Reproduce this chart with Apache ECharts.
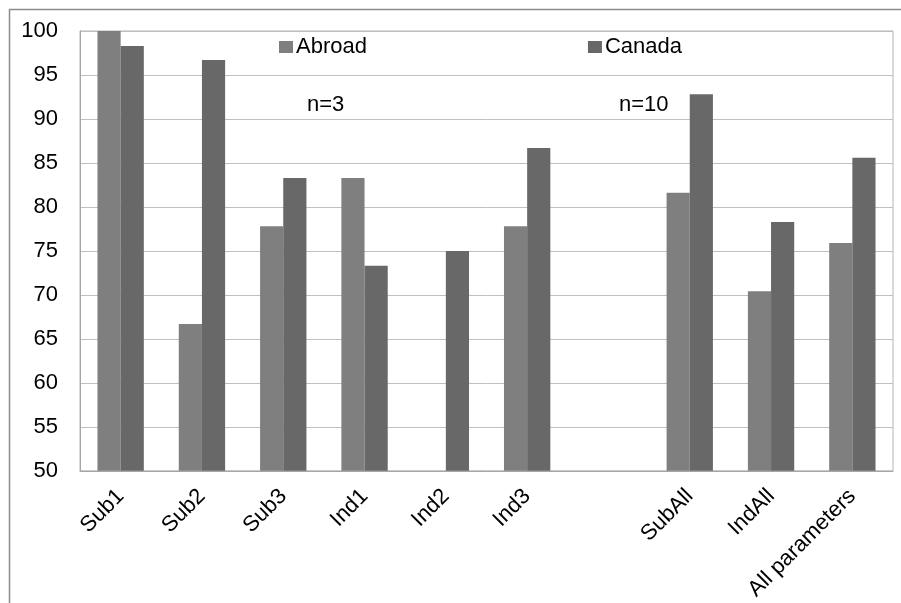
<!DOCTYPE html>
<html>
<head>
<meta charset="utf-8">
<script src="https://cdn.jsdelivr.net/npm/echarts@6/dist/echarts.min.js"></script>
<style>
  html, body { margin: 0; padding: 0; background: #fff; }
  #chart { width: 901px; height: 603px; }
</style>
</head>
<body>
<div id="chart"></div>
<script>
// Categories along the x axis (one empty slot separates the per-item and overall groups)
const categories = ['Sub1', 'Sub2', 'Sub3', 'Ind1', 'Ind2', 'Ind3', '', 'SubAll', 'IndAll', 'All parameters'];
// Percent values per series; null means no bar
const abroad = [100, 66.7, 77.8, 83.3, null, 77.8, null, 81.6, 70.4, 75.9];
const canada = [98.3, 96.7, 83.3, 73.3, 75.0, 86.7, null, 92.8, 78.3, 85.6];
// Y axis range
const yMin = 50, yMax = 100, yStep = 5;

const font = 'Liberation Sans, Arial, sans-serif';
const chart = echarts.init(document.getElementById('chart'), null, { renderer: 'canvas' });

chart.setOption({
  animation: false,
  backgroundColor: '#ffffff',
  grid: {
    left: 80, right: 8, top: 31, bottom: 132,
    show: true, borderColor: '#b3b3b3', borderWidth: 1
  },
  legend: {
    top: 31, left: 274, itemGap: 221,
    itemWidth: 14, itemHeight: 12, icon: 'rect',
    textStyle: { fontFamily: font, fontSize: 22, color: '#000', padding: [0, 0, 0, -2] },
    data: ['Abroad', 'Canada']
  },
  xAxis: {
    type: 'category',
    data: categories,
    axisLine: { lineStyle: { color: '#a6a6a6' } },
    axisTick: { inside: true, length: 7, lineStyle: { color: '#a6a6a6' } },
    axisLabel: { rotate: 45, margin: 22, interval: 0, fontFamily: font, fontSize: 22, color: '#000' }
  },
  yAxis: {
    type: 'value',
    min: yMin, max: yMax, interval: yStep,
    axisLine: { show: true, lineStyle: { color: '#a6a6a6' } },
    axisTick: { show: false },
    splitLine: { lineStyle: { color: '#bfbfbf' } },
    axisLabel: { margin: 22, fontFamily: font, fontSize: 22, color: '#000' }
  },
  series: [
    {
      name: 'Abroad', type: 'bar', data: abroad,
      itemStyle: { color: '#7f7f7f' },
      barGap: '0%', barCategoryGap: '43%'
    },
    {
      name: 'Canada', type: 'bar', data: canada,
      itemStyle: { color: '#686868' },
      barGap: '0%', barCategoryGap: '43%'
    }
  ],
  graphic: [
    { type: 'rect', shape: { x: 9.5, y: 9.5, width: 905, height: 610 }, style: { fill: 'none', stroke: '#8c8c8c', lineWidth: 1.5 }, silent: true },
    { type: 'text', left: 307, top: 94, style: { text: 'n=3', font: '22px ' + font, fill: '#000' } },
    { type: 'text', left: 619, top: 94, style: { text: 'n=10', font: '22px ' + font, fill: '#000' } }
  ]
});
</script>
</body>
</html>
